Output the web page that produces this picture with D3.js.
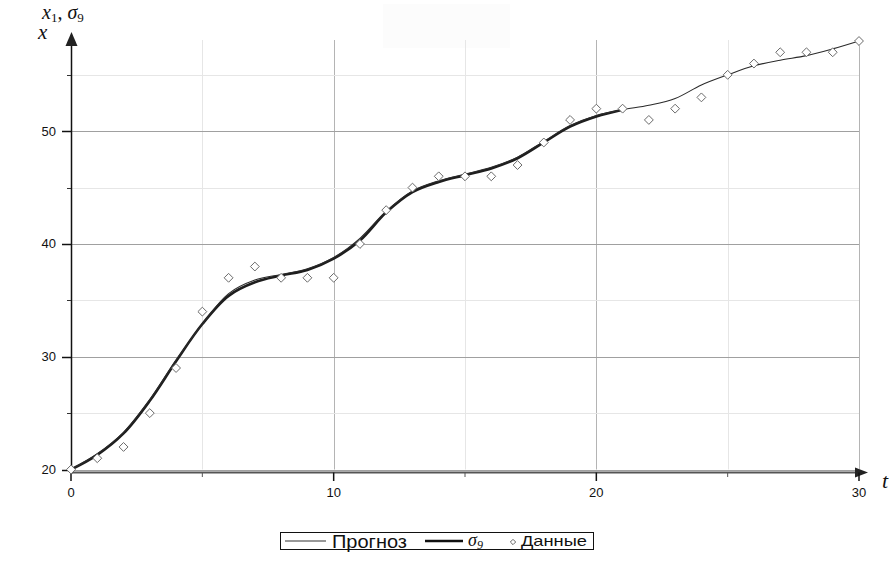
<!DOCTYPE html>
<html>
<head>
<meta charset="utf-8">
<script src="https://cdn.jsdelivr.net/npm/d3@7"></script>
<style>
  html, body { margin: 0; padding: 0; background: #fff; }
  svg { display: block; }
</style>
</head>
<body>
<svg id="chart" width="892" height="564"></svg>
<script>
// ---- data ----
const dataT = d3.range(0, 31);
const dataX = [20, 21, 22, 25, 29, 34, 37, 38, 37, 37, 37, 40, 43, 45, 46, 46, 46, 47, 49, 51, 52, 52, 51, 52, 53, 55, 56, 57, 57, 57, 58];

const sigmaT = d3.range(0, 22);
const sigmaX = [20.0, 21.3, 23.2, 26.1, 29.6, 32.9, 35.4, 36.6, 37.2, 37.7, 38.7, 40.3, 42.8, 44.6, 45.5, 46.1, 46.7, 47.6, 49.0, 50.4, 51.3, 51.9];

const forecastT = d3.range(0, 31);
const forecastX = [20.0, 21.4, 23.3, 26.2, 29.7, 32.9, 35.6, 36.8, 37.3, 37.8, 38.8, 40.5, 42.9, 44.7, 45.6, 46.2, 46.8, 47.7, 49.1, 50.5, 51.4, 51.9, 52.3, 52.9, 54.1, 55.0, 55.8, 56.3, 56.7, 57.3, 58.0];

const xMajorTicks = [0, 10, 20, 30];
const xMinorTicks = [5, 15, 25];
const yMajorTicks = [20, 30, 40, 50];
const yMinorTicks = [25, 35, 45, 55];

const legendLabels = ["Прогноз", "σ", "Данные"];

// ---- layout ----
const svg = d3.select("#chart");
const x = d3.scaleLinear().domain([0, 30]).range([71, 859]);
const y = d3.scaleLinear().domain([20, 58]).range([469.5, 41]);
const yTop = 40;

// faint rectangle at top
svg.append("rect").attr("x", 383).attr("y", 4).attr("width", 127).attr("height", 44).attr("fill", "#fcfcfc");

// grid
const grid = svg.append("g");
grid.selectAll(".vmin").data(xMinorTicks).join("line")
  .attr("x1", d => Math.round(x(d)) + 0.5).attr("x2", d => Math.round(x(d)) + 0.5)
  .attr("y1", yTop).attr("y2", y(20)).attr("stroke", "#e6e6e6");
grid.selectAll(".vmaj").data(xMajorTicks.slice(1)).join("line")
  .attr("x1", d => Math.round(x(d)) + 0.5).attr("x2", d => Math.round(x(d)) + 0.5)
  .attr("y1", yTop).attr("y2", y(20)).attr("stroke", "#b4b4b4");
grid.selectAll(".hmin").data(yMinorTicks).join("line")
  .attr("x1", x(0)).attr("x2", x(30))
  .attr("y1", d => Math.round(y(d)) + 0.5).attr("y2", d => Math.round(y(d)) + 0.5)
  .attr("stroke", "#e6e6e6");
grid.selectAll(".hmaj").data(yMajorTicks).join("line")
  .attr("x1", x(0)).attr("x2", x(30))
  .attr("y1", d => Math.round(y(d)) + 0.5).attr("y2", d => Math.round(y(d)) + 0.5)
  .attr("stroke", "#a0a0a0");

// axes
const axisY = 472.5;
svg.append("line").attr("x1", x(0)).attr("x2", 858).attr("y1", axisY).attr("y2", axisY)
  .attr("stroke", "#555").attr("stroke-width", 2);
svg.append("path").attr("d", `M868,${axisY} L855,${axisY - 5} L855,${axisY + 5} Z`).attr("fill", "#222");
svg.append("line").attr("x1", 71.5).attr("x2", 71.5).attr("y1", 474).attr("y2", 44)
  .attr("stroke", "#111").attr("stroke-width", 1.5);
svg.append("path").attr("d", "M71.5,32 L65.5,46 L77.5,46 Z").attr("fill", "#222");

// ticks
svg.selectAll(".xt").data(xMajorTicks).join("line")
  .attr("x1", d => x(d)).attr("x2", d => x(d)).attr("y1", axisY).attr("y2", 481)
  .attr("stroke", "#111").attr("stroke-width", 1.5);
svg.selectAll(".xtm").data(xMinorTicks).join("line")
  .attr("x1", d => x(d)).attr("x2", d => x(d)).attr("y1", axisY).attr("y2", 477)
  .attr("stroke", "#555");
svg.selectAll(".yt").data(yMajorTicks).join("line")
  .attr("x1", 62).attr("x2", 71).attr("y1", d => Math.round(y(d)) + 0.5).attr("y2", d => Math.round(y(d)) + 0.5)
  .attr("stroke", "#111").attr("stroke-width", 1.5);
svg.selectAll(".ytm").data(yMinorTicks).join("line")
  .attr("x1", 67).attr("x2", 71).attr("y1", d => Math.round(y(d)) + 0.5).attr("y2", d => Math.round(y(d)) + 0.5)
  .attr("stroke", "#333");

const tickFont = "'Liberation Sans Narrow', 'Liberation Sans', Arial, sans-serif";
svg.selectAll(".xl").data(xMajorTicks).join("text")
  .attr("x", d => x(d)).attr("y", 497).attr("text-anchor", "middle")
  .attr("font-family", tickFont).attr("font-size", 13).attr("fill", "#111")
  .text(d => d);
svg.selectAll(".yl").data(yMajorTicks).join("text")
  .attr("x", 56).attr("y", d => y(d) + 4.5).attr("text-anchor", "end")
  .attr("font-family", tickFont).attr("font-size", 13).attr("fill", "#111")
  .text(d => d);

// axis titles
const mathFont = "'Liberation Serif', 'DejaVu Serif', serif";
const t1 = svg.append("text").attr("x", 42).attr("y", 19).attr("font-family", mathFont)
  .attr("font-style", "italic").attr("font-size", 20).attr("fill", "#111");
t1.append("tspan").text("x");
t1.append("tspan").attr("font-size", 13).attr("dy", 3).attr("font-style", "normal").text("1");
t1.append("tspan").attr("dy", -3).attr("font-style", "normal").text(", ");
t1.append("tspan").text("σ");
t1.append("tspan").attr("font-size", 13).attr("dy", 3).attr("font-style", "normal").text("9");
svg.append("text").attr("x", 38).attr("y", 39).attr("font-family", mathFont)
  .attr("font-style", "italic").attr("font-size", 21).attr("fill", "#111").text("x");
svg.append("text").attr("x", 882).attr("y", 488).attr("font-family", mathFont)
  .attr("font-style", "italic").attr("font-size", 22).attr("fill", "#111").text("t");

// curves
const line = d3.line().x(d => x(d[0])).y(d => y(d[1])).curve(d3.curveCatmullRom.alpha(0.5));
svg.append("path").datum(sigmaT.map((t, i) => [t, sigmaX[i]]))
  .attr("d", line).attr("fill", "none").attr("stroke", "#1e1e1e").attr("stroke-width", 2.6);
svg.append("path").datum(forecastT.map((t, i) => [t, forecastX[i]]))
  .attr("d", line).attr("fill", "none").attr("stroke", "#2a2a2a").attr("stroke-width", 1.1);

// data diamonds
const dsym = d3.symbol().type(d3.symbolDiamond2).size(50);
svg.selectAll(".pt").data(dataT.map((t, i) => [t, dataX[i]])).join("path")
  .attr("transform", d => `translate(${x(d[0])},${y(d[1])})`)
  .attr("d", dsym).attr("fill", "#fff").attr("stroke", "#6a6a6a").attr("stroke-width", 1);

// legend
const lg = svg.append("g");
lg.append("rect").attr("x", 280.5).attr("y", 532.5).attr("width", 313).attr("height", 17)
  .attr("fill", "#fff").attr("stroke", "#111");
lg.append("line").attr("x1", 285).attr("x2", 326).attr("y1", 541).attr("y2", 541)
  .attr("stroke", "#333").attr("stroke-width", 1.2);
lg.append("text").attr("x", 332).attr("y", 547.5).attr("font-family", "'Liberation Sans', Arial, sans-serif")
  .attr("font-size", 18).attr("textLength", 75).attr("lengthAdjust", "spacingAndGlyphs")
  .attr("fill", "#111").text(legendLabels[0]);
lg.append("line").attr("x1", 425).attr("x2", 463).attr("y1", 541).attr("y2", 541)
  .attr("stroke", "#111").attr("stroke-width", 2.6);
const ls = lg.append("text").attr("x", 468).attr("y", 546).attr("font-family", mathFont)
  .attr("font-style", "italic").attr("font-size", 18).attr("fill", "#111");
ls.append("tspan").text(legendLabels[1]);
ls.append("tspan").attr("font-size", 12).attr("dy", 3).text("9");
lg.append("path").attr("transform", "translate(513,542)")
  .attr("d", d3.symbol().type(d3.symbolDiamond2).size(18)).attr("fill", "#fff").attr("stroke", "#666");
lg.append("text").attr("x", 521).attr("y", 546).attr("font-family", "'Liberation Sans', Arial, sans-serif")
  .attr("font-size", 15).attr("textLength", 66).attr("lengthAdjust", "spacingAndGlyphs")
  .attr("fill", "#111").text(legendLabels[2]);
</script>
</body>
</html>
